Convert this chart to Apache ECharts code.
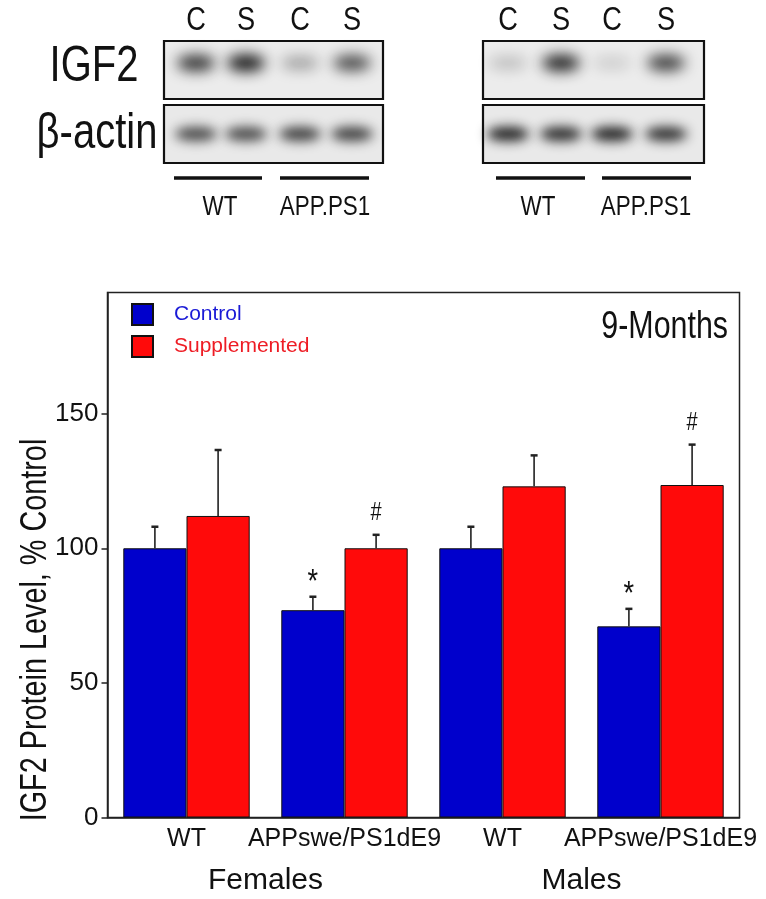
<!DOCTYPE html>
<html>
<head>
<meta charset="utf-8">
<script src="https://cdn.jsdelivr.net/npm/echarts@6/dist/echarts.min.js"></script>
<style>
html,body{margin:0;padding:0;background:#fff;}
#chart{width:766px;height:899px;}
</style>
</head>
<body>
<div id="chart"></div>
<script>
// ---- data ----
const categories = ['WT', 'APPswe/PS1dE9', 'WT', 'APPswe/PS1dE9'];
const groups = ['Females', 'Males'];
const controlValues = [100, 77, 100, 71];
const controlErrors = [8, 5, 8, 6.5];
const supplementedValues = [112, 100, 123, 123.5];
const supplementedErrors = [24.5, 5, 11.5, 15];
const controlMarks = ['', '*', '', '*'];
const supplementedMarks = ['', '#', '', '#'];
const yTickValues = [0, 50, 100, 150];
const blotLaneLabels = ['C', 'S', 'C', 'S'];
const blotGenotypes = ['WT', 'APP.PS1'];
const blotRows = ['IGF2', 'β-actin'];
// band darkness per lane (0..1) for the two blots
const leftIGF2 = [0.85, 0.97, 0.35, 0.75];
const leftActin = [0.75, 0.75, 0.8, 0.8];
const rightIGF2 = [0.22, 0.92, 0.15, 0.8];
const rightActin = [0.95, 0.9, 0.95, 0.88];

const FONT = "'Liberation Sans', Arial, sans-serif";
const SX = 0.8; // horizontal squeeze for narrow lettering
const BLUE = '#0000cc';
const RED = '#ff0a0a';

const chart = echarts.init(document.getElementById('chart'));

function errRender(values, errors, marks, sign) {
  return function (params, api) {
    const idx = api.value(0);
    const v = values[idx], e = errors[idx];
    const band = api.size([1, 0])[0];
    const base = api.coord([idx, v]);
    const top = api.coord([idx, v + e]);
    const x = base[0] + sign * band * 0.2;
    const children = [
      { type: 'line', shape: { x1: x, y1: base[1], x2: x, y2: top[1] }, style: { stroke: '#222', lineWidth: 1.6 } },
      { type: 'line', shape: { x1: x - 3.5, y1: top[1], x2: x + 3.5, y2: top[1] }, style: { stroke: '#222', lineWidth: 2.5 } }
    ];
    const m = marks[idx];
    if (m) {
      const isStar = m === '*';
      children.push({
        type: 'text',
        x: x, y: top[1] - (isStar ? -3 : 9), scaleX: SX,
        style: {
          text: m, x: 0, y: 0,
          align: 'center', verticalAlign: 'bottom',
          font: (isStar ? '34px ' : '25px ') + FONT, fill: '#111'
        }
      });
    }
    return { type: 'group', children };
  };
}

// ---- blot graphics ----
const graphics = [];
const OFF = 2000;
function band(cx, cy, w, h, dark, blur) {
  // blurred smear drawn as the shadow of an off-canvas shape
  graphics.push({
    type: 'ellipse', silent: true,
    shape: { cx: cx - OFF, cy, rx: w / 2, ry: h / 2 },
    style: {
      fill: '#000',
      shadowBlur: blur, shadowOffsetX: OFF, shadowOffsetY: 0,
      shadowColor: 'rgba(15,15,15,' + dark + ')'
    }
  });
}
function txt(text, x, y, size, align) {
  graphics.push({
    type: 'text', silent: true, x, y, scaleX: SX,
    style: { text, x: 0, y: 0, align: align || 'center', verticalAlign: 'middle', font: size + 'px ' + FONT, fill: '#111' }
  });
}
function blot(x0, x1, lanes, igf, actin, lineRanges, genoCenters) {
  graphics.push({ type: 'rect', silent: true, shape: { x: x0, y: 41, width: x1 - x0, height: 58 }, style: { fill: '#ececec', stroke: '#111', lineWidth: 2.2 } });
  graphics.push({ type: 'rect', silent: true, shape: { x: x0, y: 105, width: x1 - x0, height: 58 }, style: { fill: '#e9e9e9', stroke: '#111', lineWidth: 2.2 } });
  lanes.forEach((cx, i) => {
    band(cx, 63, 38, 11 + igf[i] * 6, igf[i], 14);
    band(cx, 134, 42, 14, actin[i], 12);
    txt(blotLaneLabels[i], cx, 21, 34);
  });
  lineRanges.forEach((r, i) => {
    graphics.push({ type: 'line', silent: true, shape: { x1: r[0], y1: 178, x2: r[1], y2: 178 }, style: { stroke: '#111', lineWidth: 3.5 } });
    txt(blotGenotypes[i], genoCenters[i], 207, 28);
  });
}
blot(164, 383, [196, 246, 300, 352], leftIGF2, leftActin, [[174, 262], [280, 369]], [220, 325]);
blot(483, 704, [508, 561, 612, 666], rightIGF2, rightActin, [[496, 585], [602, 691]], [538, 646]);
txt(blotRows[0], 94, 67, 50);
txt(blotRows[1], 97, 134, 50);
// chart decorations
txt('9-Months', 728, 328, 38, 'right');
graphics.push({
  type: 'text', silent: true, rotation: Math.PI / 2, x: 36, y: 630, scaleX: SX,
  style: { text: 'IGF2 Protein Level, % Control', x: 0, y: 0, align: 'center', verticalAlign: 'middle', font: '36px ' + FONT, fill: '#111' }
});

const option = {
  animation: false,
  backgroundColor: '#fff',
  grid: { left: 107.5, right: 26.5, top: 292.5, bottom: 81.5, show: true, borderColor: '#222', borderWidth: 1.5, containLabel: false },
  legend: {
    orient: 'vertical', left: 131, top: 303, padding: 0, itemWidth: 21, itemHeight: 21, itemGap: 9,
    icon: 'rect', selectedMode: false,
    data: [
      { name: 'Control', textStyle: { color: '#1a1ad6' } },
      { name: 'Supplemented', textStyle: { color: '#ee1c24' } }
    ],
    textStyle: { fontFamily: FONT, fontSize: 21, padding: [0, 0, 0, 16] }
  },
  xAxis: [
    {
      type: 'category', data: categories, position: 'bottom',
      axisLine: { show: true, lineStyle: { color: '#222', width: 1.5 } },
      axisTick: { show: false },
      axisLabel: { fontFamily: FONT, fontSize: 25, color: '#111', margin: 9, interval: 0 }
    },
    {
      type: 'category', data: groups, position: 'bottom', offset: 40,
      axisLine: { show: false }, axisTick: { show: false },
      axisLabel: { fontFamily: FONT, fontSize: 30, color: '#111', margin: 8, interval: 0 }
    }
  ],
  yAxis: {
    type: 'value', min: 0, max: 195, interval: 50,
    splitLine: { show: false },
    axisLine: { show: true, lineStyle: { color: '#222', width: 1.5 } },
    axisTick: { show: true, length: 6, inside: false, customValues: yTickValues, lineStyle: { color: '#222', width: 1.5 } },
    axisLabel: { fontFamily: FONT, fontSize: 26, color: '#111', margin: 9, customValues: yTickValues }
  },
  series: [
    {
      name: 'Control', type: 'bar', data: controlValues, barGap: '0%', barCategoryGap: '20%',
      itemStyle: { color: BLUE, borderColor: '#111', borderWidth: 1 }
    },
    {
      name: 'Supplemented', type: 'bar', data: supplementedValues, barGap: '0%', barCategoryGap: '20%',
      itemStyle: { color: RED, borderColor: '#111', borderWidth: 1 }
    },
    {
      type: 'custom', name: 'ctrlErr', data: controlValues.map((v, i) => [i, v]), z: 5, silent: true,
      renderItem: errRender(controlValues, controlErrors, controlMarks, -1)
    },
    {
      type: 'custom', name: 'suppErr', data: supplementedValues.map((v, i) => [i, v]), z: 5, silent: true,
      renderItem: errRender(supplementedValues, supplementedErrors, supplementedMarks, 1)
    }
  ],
  graphic: graphics
};
chart.setOption(option);
</script>
</body>
</html>
